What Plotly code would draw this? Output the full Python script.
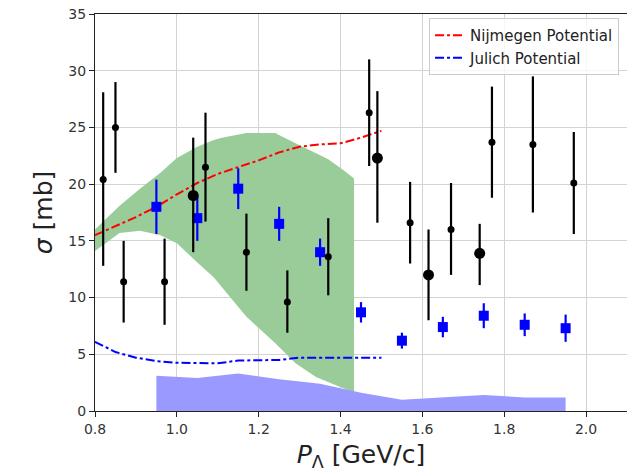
import plotly.graph_objects as go

# --- data ---
# black measurements (small markers)
blk_x = [0.82, 0.85, 0.87, 0.97, 1.07, 1.17, 1.27, 1.37, 1.47, 1.57, 1.67, 1.77, 1.87, 1.97]
blk_y = [20.4, 25.0, 11.4, 11.4, 21.5, 14.0, 9.6, 13.6, 26.3, 16.6, 16.0, 23.7, 23.5, 20.1]
blk_hi = [7.7, 4.0, 3.6, 3.8, 4.8, 3.4, 2.8, 3.4, 4.7, 3.6, 4.1, 4.9, 6.0, 4.5]
blk_lo = [7.6, 4.0, 3.6, 3.8, 4.8, 3.4, 2.7, 3.4, 4.7, 3.6, 4.0, 4.9, 6.0, 4.5]

# black measurements (large markers)
big_x = [1.04, 1.49, 1.615, 1.74]
big_y = [19.0, 22.3, 12.0, 13.9]
big_hi = [5.1, 5.9, 4.0, 2.6]
big_lo = [5.0, 5.7, 4.0, 2.8]

# blue squares
sq_x = [0.95, 1.05, 1.15, 1.25, 1.35, 1.45, 1.55, 1.65, 1.75, 1.85, 1.95]
sq_y = [18.0, 17.0, 19.6, 16.5, 14.0, 8.7, 6.2, 7.4, 8.4, 7.6, 7.3]
sq_err = [2.4, 2.0, 1.8, 1.5, 1.2, 0.9, 0.7, 0.9, 1.1, 1.0, 1.2]

# model curves
pot_x = [0.80, 0.85, 0.90, 0.95, 1.00, 1.05, 1.10, 1.15, 1.20, 1.25, 1.30, 1.35, 1.40, 1.45, 1.50]
nijmegen = [15.5, 16.3, 17.1, 18.0, 19.1, 20.1, 20.9, 21.5, 22.1, 22.8, 23.3, 23.5, 23.6, 24.1, 24.7]
julich = [6.1, 5.2, 4.7, 4.4, 4.25, 4.2, 4.2, 4.45, 4.45, 4.5, 4.7, 4.7, 4.7, 4.7, 4.7]

# green band
band_x = [0.80, 0.86, 0.91, 0.96, 1.00, 1.05, 1.09, 1.11, 1.17, 1.24, 1.29, 1.34, 1.37, 1.405, 1.433]
band_hi = [16.0, 18.1, 19.6, 21.0, 22.3, 23.3, 23.9, 24.1, 24.5, 24.5, 23.6, 22.7, 22.2, 21.3, 20.5]
band_lo = [14.1, 15.7, 15.9, 15.5, 14.8, 13.1, 11.8, 11.0, 8.3, 6.0, 4.2, 3.0, 2.5, 2.0, 1.6]

# lavender band
sys_x = [0.95, 1.05, 1.15, 1.25, 1.35, 1.45, 1.55, 1.65, 1.75, 1.85, 1.95]
sys_y = [3.1, 2.9, 3.3, 2.8, 2.4, 1.6, 1.0, 1.2, 1.4, 1.2, 1.2]

fig = go.Figure()

fig.add_trace(go.Scatter(
    x=band_x + band_x[::-1], y=band_hi + band_lo[::-1],
    fill='toself', fillcolor='#99cc99', line=dict(width=0),
    mode='lines', showlegend=False, hoverinfo='skip'))

fig.add_trace(go.Scatter(
    x=sys_x, y=sys_y, fill='tozeroy', fillcolor='#9999ff',
    line=dict(width=0), mode='lines', showlegend=False, hoverinfo='skip'))

fig.add_trace(go.Scatter(
    x=pot_x, y=nijmegen, mode='lines', name='Nijmegen Potential',
    line=dict(color='#ff0000', width=2, dash='dashdot')))
fig.add_trace(go.Scatter(
    x=pot_x, y=julich, mode='lines', name='Julich Potential',
    line=dict(color='#0000ff', width=2, dash='dashdot')))

fig.add_trace(go.Scatter(
    x=sq_x, y=sq_y, mode='markers', showlegend=False,
    marker=dict(symbol='square', size=10, color='#0000ff'),
    error_y=dict(type='data', array=sq_err, color='#0000ff', thickness=2.2, width=0)))

fig.add_trace(go.Scatter(
    x=blk_x, y=blk_y, mode='markers', showlegend=False,
    marker=dict(size=7, color='black'),
    error_y=dict(type='data', symmetric=False, array=blk_hi, arrayminus=blk_lo,
                 color='black', thickness=2.2, width=0)))
fig.add_trace(go.Scatter(
    x=big_x, y=big_y, mode='markers', showlegend=False,
    marker=dict(size=11, color='black'),
    error_y=dict(type='data', symmetric=False, array=big_hi, arrayminus=big_lo,
                 color='black', thickness=2.2, width=0)))

axis_style = dict(
    showgrid=True, gridcolor='#d3d3d3', gridwidth=1,
    showline=True, linecolor='#222', linewidth=1.2, mirror=True,
    ticks='outside', ticklen=5, tickcolor='#222',
    tickfont=dict(family='DejaVu Sans', size=14, color='#333'),
    ticklabeloverflow='allow', automargin=False,
    zeroline=False,
)

fig.update_xaxes(range=[0.8, 2.1], tickvals=[0.8, 1.0, 1.2, 1.4, 1.6, 1.8, 2.0],
                 ticktext=['0.8', '1.0', '1.2', '1.4', '1.6', '1.8', '2.0'],
                 title=dict(text='<i>P</i><sub>Λ</sub> [GeV/c]',
                            font=dict(family='DejaVu Sans', size=25, color='#222'),
                            standoff=9),
                 **axis_style)
fig.update_yaxes(range=[0, 35], dtick=5,
                 title=dict(text='<i>σ</i> [mb]',
                            font=dict(family='DejaVu Sans', size=25, color='#222'),
                            standoff=8),
                 **axis_style)

fig.update_layout(
    width=635, height=476,
    margin=dict(l=87, r=16, t=6, b=73),
    plot_bgcolor='white', paper_bgcolor='white',
    font=dict(family='DejaVu Sans'),
    legend=dict(x=0.985, y=0.99, xanchor='right', yanchor='top',
                bgcolor='rgba(255,255,255,0.8)', bordercolor='#cccccc', borderwidth=1,
                font=dict(family='DejaVu Sans', size=15, color='#222')),
)

fig.write_html("out.html")
